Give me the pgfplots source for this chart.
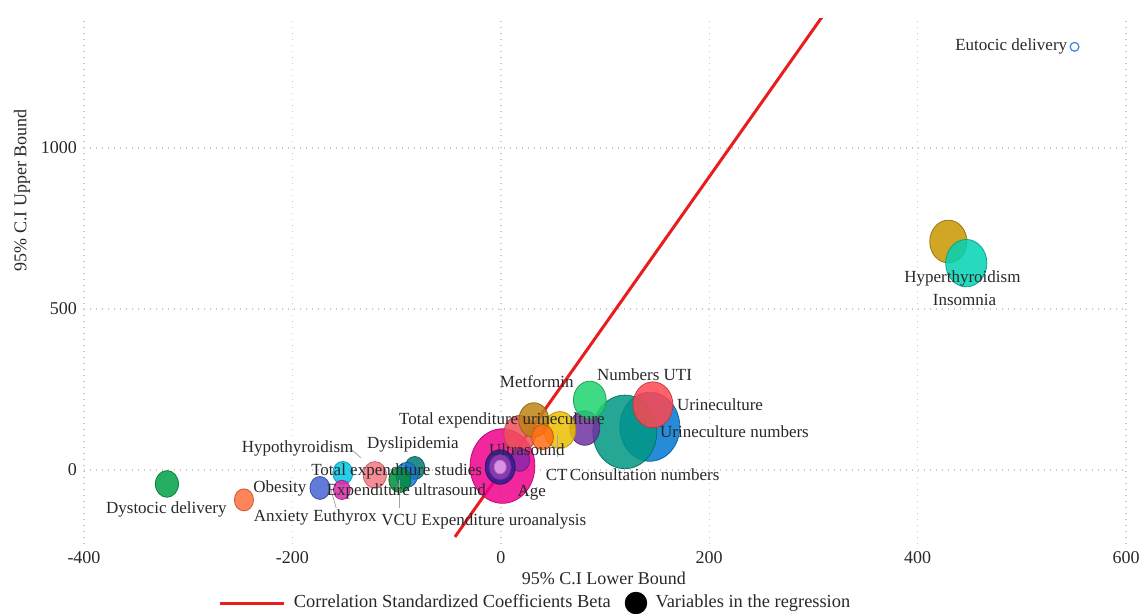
\documentclass[border=0pt]{standalone}
\usepackage{pgfplots}
\pgfplotsset{compat=1.18}
\usepackage{fontspec}
\setmainfont{Liberation Serif}
\definecolor{txt}{RGB}{40,40,40}
\definecolor{redline}{RGB}{232,30,30}
\definecolor{c0}{RGB}{0,120,210}
\definecolor{c1}{RGB}{0,150,130}
\definecolor{c2}{RGB}{110,50,160}
\definecolor{c3}{RGB}{30,210,110}
\definecolor{c4}{RGB}{255,70,80}
\definecolor{c5}{RGB}{235,190,0}
\definecolor{c6}{RGB}{240,0,140}
\definecolor{c7}{RGB}{240,80,90}
\definecolor{c8}{RGB}{190,130,20}
\definecolor{c9}{RGB}{255,110,20}
\definecolor{c10}{RGB}{140,40,170}
\definecolor{c11}{RGB}{40,30,140}
\definecolor{c12}{RGB}{150,60,190}
\definecolor{c13}{RGB}{235,160,235}
\definecolor{c14}{RGB}{0,160,70}
\definecolor{c15}{RGB}{255,110,60}
\definecolor{c16}{RGB}{70,100,210}
\definecolor{c17}{RGB}{0,200,230}
\definecolor{c18}{RGB}{220,40,170}
\definecolor{c19}{RGB}{245,120,130}
\definecolor{c20}{RGB}{0,120,120}
\definecolor{c21}{RGB}{20,120,210}
\definecolor{c22}{RGB}{0,140,60}
\definecolor{c23}{RGB}{200,150,0}
\definecolor{c24}{RGB}{0,210,180}
\definecolor{eut}{RGB}{60,130,220}
% x, y, radius (pt), colour
\newcommand{\bub}[4]{\addplot[only marks, mark=*, mark size=#3pt, forget plot,
  mark options={draw=#4!75!black, fill=#4, fill opacity=0.85, draw opacity=0.9, yscale=1.15}]
  coordinates {(#1,#2)};}
\begin{document}
\begin{tikzpicture}
\begin{axis}[
  name=ax,
  set layers=standard,
  scale only axis,
  width=521pt, height=262.5pt,
  xmin=-400, xmax=600, ymin=-230, ymax=1400,
  xtick={-400,-200,0,200,400,600},
  ytick={0,500,1000},
  axis line style={draw=none},
  major tick length=0pt,
  grid=major,
  major grid style={dash pattern=on 0.7pt off 2.3pt, gray!42, line width=0.7pt},
  /pgf/number format/assume math mode=true,
  /pgf/number format/1000 sep={},
  ticklabel style={font=\fontsize{9}{11}\selectfont, text=txt},
  label style={font=\fontsize{9}{11}\selectfont, text=txt},
  xlabel={95\% C.I Lower Bound},
  ylabel={95\% C.I Upper Bound},
  xlabel style={at={(axis description cs:0.499,-0.065)}, anchor=center},
  ylabel style={at={(axis description cs:-0.0595,0.674)}, anchor=center},
  legend columns=2,
  legend style={at={(axis description cs:0.1286,-0.1124)}, anchor=west, draw=none, fill=none, inner sep=0pt,
    font=\fontsize{9.2}{11}\selectfont, text=txt,
    /tikz/every odd column/.append style={column sep=2.2pt},
    /tikz/every even column/.append style={column sep=5pt}},
  clip=true,
]
\bub{143}{134}{15}{c0}
\bub{119}{118}{16}{c1}
\bub{80.6}{130}{7.5}{c2}
\bub{85.4}{217}{8.2}{c3}
\bub{146}{202}{10}{c4}
\bub{56.6}{124}{8}{c5}
\bub{1.6}{12}{16.2}{c6}
\bub{18.2}{112}{8}{c7}
\bub{31.7}{155}{7.5}{c8}
\bub{40}{102}{5.5}{c9}
\bub{18.2}{31}{5}{c10}
\bub{-0.6}{9}{7.5}{c11}
\bub{-0.6}{9}{5.5}{c12}
\bub{-0.6}{9}{3}{c13}
\bub{-320.4}{-43.5}{5.8}{c14}
\bub{-246.5}{-93}{4.8}{c15}
\bub{-173.6}{-56}{5}{c16}
\bub{-151.6}{-9.3}{5}{c17}
\bub{-152.5}{-62}{4.2}{c18}
\bub{-120.9}{-15.5}{5.8}{c19}
\bub{-82.5}{6}{5}{c20}
\bub{-90.2}{-15.5}{5.5}{c21}
\bub{-96.9}{-31}{5.5}{c22}
\bub{429.5}{709}{9.3}{c23}
\bub{446.7}{642}{10.3}{c24}
\addplot[only marks, mark=o, mark size=2.2pt, draw=eut, forget plot, mark options={line width=0.6pt}]
  coordinates {(550.6,1313.6)};
\addplot[redline, line width=1.5pt,
  legend image code/.code={\draw[redline, line width=1.5pt] (0pt,0pt) -- (32pt,0pt);}]
  coordinates {(-44,-208) (320,1460)};
\addlegendentry{Correlation Standardized Coefficients Beta}
\addlegendimage{legend image code/.code={\fill[black] (5.4pt,0pt) circle (5.4pt);}}
\addlegendentry{Variables in the regression}
\begin{pgfonlayer}{axis foreground}
% leader lines
\draw[gray!70, line width=0.4pt] (axis cs:-145,68) -- (axis cs:-134,37);
\draw[gray!70, line width=0.4pt] (axis cs:54,109) -- (axis cs:54,40);
\draw[gray!70, line width=0.4pt] (axis cs:-97,-31) -- (axis cs:-97,-118);
\draw[gray!70, line width=0.4pt] (axis cs:-163,-62) -- (axis cs:-158,-118);
% labels
\begin{scope}[every node/.style={font=\fontsize{8.5}{10}\selectfont, text=txt, inner sep=0pt}]
\node[anchor=east] at (axis cs:543.9,1313.7) {Eutocic delivery};
\node at (axis cs:443,596) {Hyperthyroidism};
\node at (axis cs:445,528) {Insomnia};
\node at (axis cs:34.5,273) {Metformin};
\node at (axis cs:138,295) {Numbers UTI};
\node[anchor=west] at (axis cs:168.8,202) {Urineculture};
\node[anchor=west] at (axis cs:152.5,118) {Urineculture numbers};
\node at (axis cs:1,155) {Total expenditure urineculture};
\node at (axis cs:-84.4,77.6) {Dyslipidemia};
\node at (axis cs:-195,68) {Hypothyroidism};
\node at (axis cs:25,62) {Ultrasound};
\node at (axis cs:-100,-6) {Total expenditure studies};
\node at (axis cs:53.7,-15.5) {CT};
\node at (axis cs:138,-15.5) {Consultation numbers};
\node at (axis cs:-90.6,-68) {Expenditure ultrasound};
\node at (axis cs:29.7,-71) {Age};
\node at (axis cs:-149.6,-146) {Euthyrox};
\node at (axis cs:-16.3,-161) {VCU Expenditure uroanalysis};
\node at (axis cs:-212,-56) {Obesity};
\node at (axis cs:-210.6,-149) {Anxiety};
\node at (axis cs:-321,-124) {Dystocic delivery};
\end{scope}
\end{pgfonlayer}
\end{axis}
\pgfresetboundingbox
\path ([shift={(-42pt,-35pt)}]ax.south west) rectangle ([shift={(7pt,9.5pt)}]ax.north east);
\end{tikzpicture}
\end{document}
